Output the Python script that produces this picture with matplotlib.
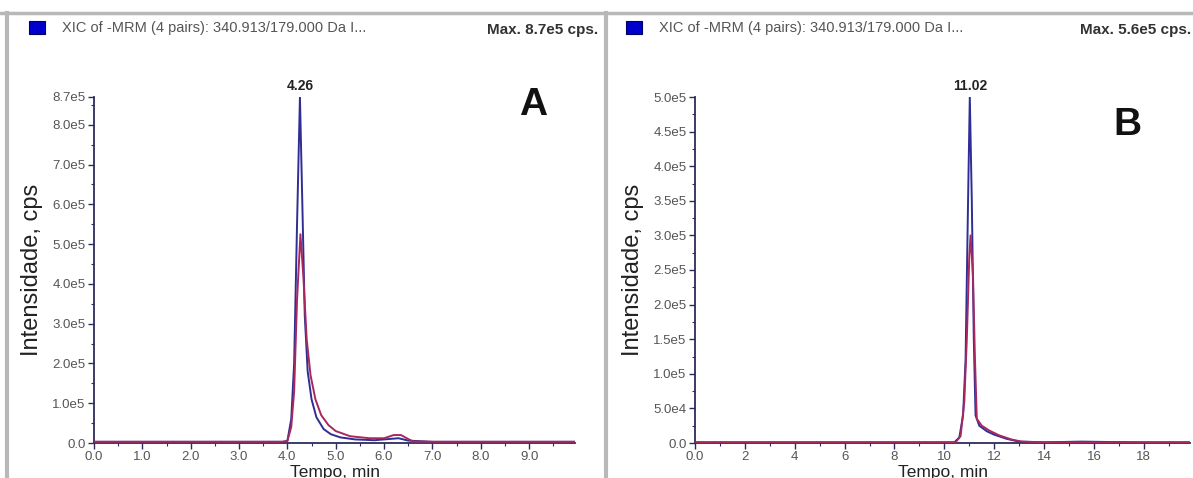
import matplotlib.pyplot as plt
import matplotlib.patches as mpatches
import numpy as np

plt.rcParams['font.family'] = ['Liberation Sans', 'DejaVu Sans']

# panel A: retention time (min) and intensity (cps)
time_a = [0.0, 1.0, 2.0, 3.0, 3.9, 4.0, 4.08, 4.14, 4.2, 4.26, 4.31, 4.36, 4.42, 4.5, 4.6,
          4.75, 4.9, 5.1, 5.4, 5.8, 6.1, 6.3, 6.5, 7.0, 8.0, 9.0, 9.95]
blue_a = [0.03, 0.03, 0.03, 0.03, 0.03, 0.05, 0.6, 2.0, 5.5, 8.7, 6.0, 3.2, 1.8, 1.1, 0.65,
          0.35, 0.22, 0.14, 0.09, 0.07, 0.1, 0.12, 0.06, 0.03, 0.03, 0.03, 0.03]
red_time_a = [0.0, 1.0, 2.0, 3.0, 3.9, 4.0, 4.08, 4.14, 4.2, 4.27, 4.33, 4.4, 4.48, 4.58, 4.7,
              4.85, 5.0, 5.3, 5.7, 6.0, 6.2, 6.35, 6.5, 6.6, 7.0, 8.0, 9.0, 9.95]
red_a = [0.03, 0.03, 0.03, 0.03, 0.03, 0.05, 0.4, 1.3, 3.6, 5.25, 4.2, 2.6, 1.7, 1.1, 0.7,
         0.45, 0.3, 0.17, 0.12, 0.12, 0.2, 0.2, 0.1, 0.04, 0.03, 0.03, 0.03, 0.03]

# panel B
time_b = [0.0, 4.0, 8.0, 10.4, 10.6, 10.75, 10.85, 10.95, 11.02, 11.1, 11.18, 11.25, 11.4,
          11.7, 12.0, 12.5, 13.0, 14.0, 15.5, 16.5, 18.0, 19.8]
blue_b = [0.01, 0.01, 0.01, 0.01, 0.08, 0.4, 1.2, 3.5, 5.0, 3.5, 1.5, 0.4, 0.25,
          0.17, 0.12, 0.06, 0.02, 0.01, 0.02, 0.015, 0.01, 0.01]
red_time_b = [0.0, 4.0, 8.0, 10.45, 10.65, 10.8, 10.9, 11.0, 11.05, 11.15, 11.22, 11.3, 11.5,
              11.8, 12.2, 12.7, 13.1, 14.0, 16.0, 18.0, 19.8]
red_b = [0.01, 0.01, 0.01, 0.01, 0.1, 0.6, 1.5, 2.7, 3.0, 2.4, 1.3, 0.35, 0.25,
         0.18, 0.11, 0.05, 0.02, 0.01, 0.01, 0.01, 0.01]

yticks_a = [0, 1, 2, 3, 4, 5, 6, 7, 8, 8.7]
ylabels_a = ['0.0', '1.0e5', '2.0e5', '3.0e5', '4.0e5', '5.0e5', '6.0e5', '7.0e5', '8.0e5', '8.7e5']
xticks_a = [0, 1, 2, 3, 4, 5, 6, 7, 8, 9]
xlabels_a = ['0.0', '1.0', '2.0', '3.0', '4.0', '5.0', '6.0', '7.0', '8.0', '9.0']
yticks_b = [0, 0.5, 1.0, 1.5, 2.0, 2.5, 3.0, 3.5, 4.0, 4.5, 5.0]
ylabels_b = ['0.0', '5.0e4', '1.0e5', '1.5e5', '2.0e5', '2.5e5', '3.0e5', '3.5e5', '4.0e5',
             '4.5e5', '5.0e5']
xticks_b = [0, 2, 4, 6, 8, 10, 12, 14, 16, 18]
xlabels_b = ['0.0', '2', '4', '6', '8', '10', '12', '14', '16', '18']

W, H = 1193, 478
fig = plt.figure(figsize=(W / 100, H / 100), dpi=100)

def fx(px):
    return px / W

def fy(py):
    return 1 - py / H

# window frames
frame = '#b8b8b8'
fig.add_artist(plt.Line2D([0, 1], [fy(13), fy(13)], color=frame, lw=2.5))
fig.add_artist(plt.Line2D([fx(7), fx(7)], [0, fy(13)], color=frame, lw=3))
fig.add_artist(plt.Line2D([fx(606), fx(606)], [0, fy(13)], color=frame, lw=3))

axis_col = '#2c2c5c'
tick_col = '#555555'
blue = '#2e2e96'
red = '#a8285e'

panels = [
    dict(left=94, right=575, top=97, t=time_a, b=blue_a, rt=red_time_a, r=red_a, xlim=9.95,
         ylim=8.7, yt=yticks_a, yl=ylabels_a, xt=xticks_a, xl=xlabels_a, xminor=0.5, yminor=0.5,
         peak='4.26', pk=(4.26, 8.7), mx='Max. 8.7e5 cps.', mxx=598, letter='A', lx=533, ly=105,
         hx=29),
    dict(left=695, right=1190, top=97, t=time_b, b=blue_b, rt=red_time_b, r=red_b, xlim=19.85,
         ylim=5.0, yt=yticks_b, yl=ylabels_b, xt=xticks_b, xl=xlabels_b, xminor=1.0, yminor=0.25,
         peak='11.02', pk=(11.02, 5.0), mx='Max. 5.6e5 cps.', mxx=1191, letter='B', lx=1127, ly=125,
         hx=626),
]

for p in panels:
    ax = fig.add_axes([fx(p['left']), fy(443), fx(p['right'] - p['left']), fy(p['top']) - fy(443)])
    ax.plot(p['rt'], p['r'], color=red, lw=1.4, zorder=3)
    ax.plot(p['t'], p['b'], color=blue, lw=1.4, zorder=2)
    ax.set_xlim(0, p['xlim'])
    ax.set_ylim(0, p['ylim'])
    for s in ['top', 'right']:
        ax.spines[s].set_visible(False)
    for s in ['left', 'bottom']:
        ax.spines[s].set_color(axis_col)
        ax.spines[s].set_linewidth(1.3)
    ax.set_yticks(p['yt'])
    ax.set_yticklabels(p['yl'])
    ax.set_xticks(p['xt'])
    ax.set_xticklabels(p['xl'])
    ax.set_xticks(np.arange(0, p['xlim'], p['xminor']), minor=True)
    ax.set_yticks(np.arange(0, p['ylim'], p['yminor']), minor=True)
    ax.tick_params(axis='both', which='major', length=4, width=1, color=axis_col,
                   labelsize=9.5, labelcolor=tick_col, pad=2)
    ax.tick_params(axis='both', which='minor', length=2, width=0.8, color=axis_col)
    ax.set_ylabel('Intensidade, cps', fontsize=17, color='#222222', labelpad=7)
    ax.set_xlabel('Tempo, min', fontsize=12.5, color='#222222', labelpad=1)
    ax.patch.set_alpha(0)

    ax.annotate(p['peak'], xy=p['pk'], xytext=(0, 3), textcoords='offset points',
                ha='center', va='bottom', fontsize=10, fontweight='bold', color='#222222')

    fig.text(fx(p['lx']), fy(p['ly']), p['letter'], fontsize=28, fontweight='bold',
             ha='center', va='center', color='#111111')
    fig.text(fx(p['mxx']), fy(30), p['mx'], fontsize=11, fontweight='bold',
             ha='right', va='center', color='#333333')
    fig.add_artist(mpatches.Rectangle((fx(p['hx'])
                                       , fy(34)), fx(16), fy(21) - fy(34),
                                      facecolor='#0000cc', edgecolor='#000066', lw=0.8))
    fig.text(fx(p['hx'] + 33), fy(28), 'XIC of -MRM (4 pairs): 340.913/179.000 Da I...',
             fontsize=10.5, ha='left', va='center', color='#555555')

fig.savefig('out.png', dpi=100)
